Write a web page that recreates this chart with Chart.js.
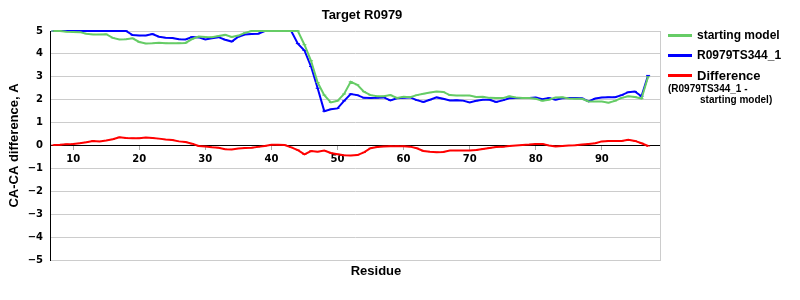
<!DOCTYPE html>
<html>
<head>
<meta charset="utf-8">
<script src="https://cdn.jsdelivr.net/npm/chart.js@4/dist/chart.umd.min.js"></script>
<style>
    body { margin: 0; background: #fff; }
    #wrap { position: relative; width: 800px; height: 300px; font-family: "Liberation Sans", Arial, sans-serif; font-weight: bold; color: #000; }
    #chartTitle { position: absolute; left: 262px; width: 200px; top: 7px; text-align: center; font-size: 13px; }
    #xTitle { position: absolute; left: 326px; width: 100px; top: 263px; text-align: center; font-size: 13px; }
    #legend { position: absolute; left: 668px; top: 25px; }
    .item { display: flex; align-items: center; height: 20px; font-size: 12px; white-space: nowrap; }
    .swatch { width: 24px; height: 3px; margin-right: 5px; }
    .note { font-size: 10px; line-height: 11px; margin-top: -2px; }
</style>
</head>
<body>
<div id="wrap">
    <canvas id="chart" width="800" height="300"></canvas>
    <div id="chartTitle">Target R0979</div>
    <div id="xTitle">Residue</div>
    <div id="legend"></div>
</div>
<script>
// --- Data ---
const residues = [7, 8, 9, 10, 11, 12, 13, 14, 15, 16, 17, 18, 19, 20, 21, 22, 23, 24, 25, 26,
    27, 28, 29, 30, 31, 32, 33, 34, 35, 36, 37, 38, 39, 40, 41, 42, 43, 44, 45, 46,
    47, 48, 49, 50, 51, 52, 53, 54, 55, 56, 57, 58, 59, 60, 61, 62, 63, 64, 65, 66,
    67, 68, 69, 70, 71, 72, 73, 74, 75, 76, 77, 78, 79, 80, 81, 82, 83, 84, 85, 86,
    87, 88, 89, 90, 91, 92, 93, 94, 95, 96, 97];

const startingModel = [5, 5, 4.97, 4.96, 4.95, 4.88, 4.85, 4.85, 4.86, 4.7, 4.63, 4.64, 4.68, 4.52, 4.45, 4.46, 4.49, 4.47, 4.46, 4.47,
    4.48, 4.65, 4.76, 4.74, 4.73, 4.78, 4.83, 4.74, 4.8, 4.92, 5, 5, 5, 5, 5, 5, 5, 5, 4.4, 3.7,
    2.75, 2.2, 1.88, 1.95, 2.25, 2.78, 2.65, 2.35, 2.2, 2.15, 2.15, 2.2, 2.08, 2.13, 2.11, 2.2, 2.26, 2.31, 2.36, 2.34,
    2.2, 2.18, 2.18, 2.18, 2.12, 2.13, 2.08, 2.07, 2.07, 2.15, 2.1, 2.07, 2.07, 2.04, 1.95, 2.0, 2.1, 2.11, 2.05, 2.04,
    2.04, 1.92, 1.92, 1.92, 1.87, 1.95, 2.08, 2.15, 2.12, 2.05, 3.0];

const model344 = [5, 5, 5, 5, 5, 5, 5, 5, 5, 5, 5, 5, 4.82, 4.8, 4.8, 4.87, 4.75, 4.71, 4.69, 4.64,
    4.63, 4.74, 4.72, 4.63, 4.68, 4.73, 4.62, 4.54, 4.75, 4.85, 4.87, 4.88, 5, 5, 5, 5, 5, 4.45, 4.15, 3.45,
    2.5, 1.5, 1.58, 1.62, 1.95, 2.25, 2.2, 2.08, 2.07, 2.08, 2.1, 1.97, 2.06, 2.08, 2.1, 1.98, 1.9, 2.0, 2.1, 2.04,
    1.97, 1.98, 1.96, 1.88, 1.95, 2.0, 2.0, 1.9, 1.97, 2.06, 2.07, 2.07, 2.07, 2.1, 2.02, 2.07, 2.0, 2.06, 2.07, 2.07,
    2.06, 1.93, 2.05, 2.1, 2.11, 2.11, 2.2, 2.33, 2.36, 2.15, 3.06];

const difference = [0.02, 0.03, 0.06, 0.07, 0.1, 0.14, 0.2, 0.18, 0.22, 0.27, 0.36, 0.33, 0.32, 0.32, 0.35, 0.33, 0.3, 0.26, 0.24, 0.18,
    0.15, 0.08, -0.02, -0.04, -0.08, -0.1, -0.16, -0.17, -0.13, -0.11, -0.1, -0.06, -0.02, 0.03, 0.03, 0.02, -0.08, -0.2, -0.39, -0.24,
    -0.27, -0.22, -0.33, -0.38, -0.43, -0.44, -0.42, -0.3, -0.12, -0.07, -0.04, -0.03, -0.03, -0.03, -0.05, -0.12, -0.24, -0.27, -0.29, -0.28,
    -0.22, -0.22, -0.22, -0.22, -0.2, -0.15, -0.11, -0.07, -0.06, -0.02, 0.0, 0.02, 0.04, 0.07, 0.07, 0.0, -0.04, -0.02, 0.0, 0.01,
    0.04, 0.07, 0.1, 0.18, 0.2, 0.2, 0.2, 0.25, 0.2, 0.1, -0.02];

const xTicks = [10, 20, 30, 40, 50, 60, 70, 80, 90];
const yTicks = [-5, -4, -3, -2, -1, 0, 1, 2, 3, 4, 5];

const GREEN = '#66cc66';
const BLUE = '#0000ff';
const RED = '#ff0000';
const GRID = '#cccccc';

const toPoints = values => residues.map((r, i) => ({ x: r, y: values[i] }));

function makeSeries(label, values, color) {
    return {
        label: label,
        data: toPoints(values),
        borderColor: color,
        backgroundColor: color,
        borderWidth: 2,
        pointStyle: 'line',
        pointRadius: 2,
        pointBorderWidth: 1,
        tension: 0,
        clip: 3
    };
}

const datasets = [
    makeSeries('starting model', startingModel, GREEN),
    makeSeries('R0979TS344_1', model344, BLUE),
    makeSeries('Difference', difference, RED)
];

const tickFont = { family: '"DejaVu Sans", Verdana, sans-serif', size: 10, weight: 'bold' };

new Chart(document.getElementById('chart'), {
    type: 'line',
    data: { datasets: datasets },
    options: {
        responsive: false,
        animation: false,
        layout: { padding: { top: 31, bottom: 40, left: 0, right: 0 } },
        plugins: {
            legend: { display: false },
            tooltip: { enabled: false }
        },
        scales: {
            x: {
                type: 'linear',
                min: 6.5,
                max: 98.8,
                position: { y: 0 },
                afterBuildTicks: scale => { scale.ticks = xTicks.map(v => ({ value: v })); },
                ticks: { color: '#000', font: tickFont, padding: 4, maxRotation: 0 },
                grid: { drawOnChartArea: false, tickLength: 4, color: '#aaaaaa' },
                border: { color: '#000', width: 1 }
            },
            y: {
                type: 'linear',
                min: -5,
                max: 5,
                afterFit: scale => { scale.width = 50; },
                afterBuildTicks: scale => { scale.ticks = yTicks.map(v => ({ value: v })); },
                ticks: {
                    color: '#000',
                    font: tickFont,
                    padding: 7,
                    callback: v => v < 0 ? '\u2212' + Math.abs(v) : String(v)
                },
                grid: {
                    drawTicks: false,
                    color: ctx => (ctx.tick && ctx.tick.value === 0) ? '#000' : GRID
                },
                border: { color: '#000', width: 1 },
                title: {
                    display: true,
                    text: 'CA-CA difference, A',
                    color: '#000',
                    font: { family: '"Liberation Sans", Arial, sans-serif', size: 13, weight: 'bold' },
                    padding: { top: 7, bottom: 0 }
                }
            },
            yRight: {
                type: 'linear',
                position: 'right',
                afterFit: scale => { scale.width = 140; },
                ticks: { display: false },
                grid: { display: false },
                border: { color: GRID, width: 1 }
            }
        }
    }
});

// --- Legend (HTML, built from the datasets) ---
const legendEl = document.getElementById('legend');
datasets.forEach(ds => {
    const row = document.createElement('div');
    row.className = 'item';
    row.innerHTML = '<span class="swatch" style="background:' + ds.borderColor + '"></span>' + ds.label;
    if (ds.label === 'Difference') row.style.fontSize = '13px';
    legendEl.appendChild(row);
});
const note = document.createElement('div');
note.className = 'note';
note.innerHTML = '(R0979TS344_1 -<br><span style="padding-left:32px">starting model)</span>';
legendEl.appendChild(note);
</script>
</body>
</html>
